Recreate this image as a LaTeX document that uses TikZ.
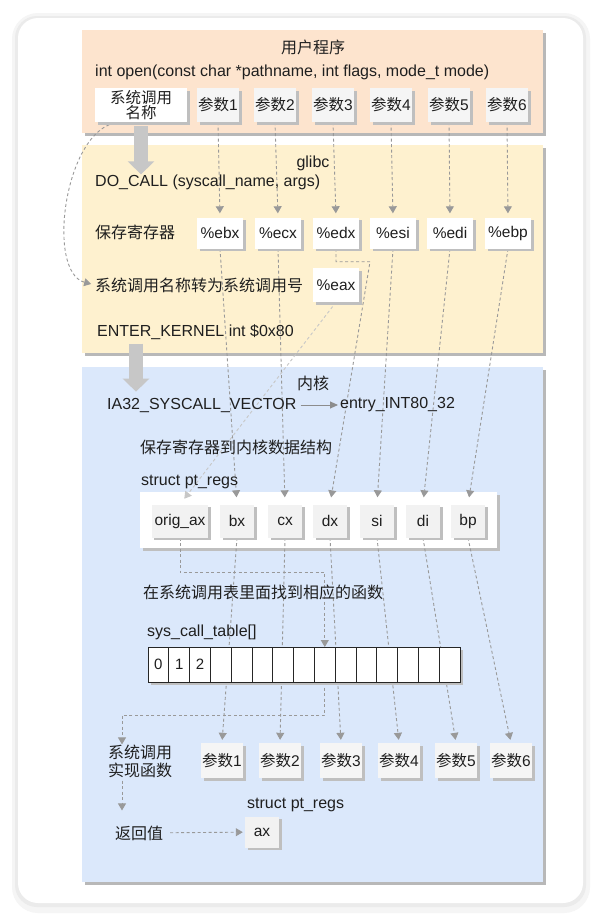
\documentclass[tikz,border=0pt]{standalone}
\usepackage{fontspec}
\setmainfont{Liberation Sans}
\newfontfamily\cjkfont{Noto Sans CJK SC}
\newcommand{\zh}[1]{{\cjkfont #1}}
\usepackage{xcolor}
\usepackage{tikz}
\usetikzlibrary{arrows.meta, positioning, shadows}
\definecolor{durazno}{HTML}{FDE4CE}
\definecolor{crema}{HTML}{FEF1CF}
\definecolor{celeste}{HTML}{DBE8FB}
\pgfdeclarelayer{fondo}
\pgfdeclarelayer{lineas}
\pgfsetlayers{fondo,lineas,main}

\begin{document}
\begin{tikzpicture}[
    x=1pt, y=-1pt,
    every node/.style={font=\fontsize{16}{17}\selectfont, text=black!88},
    texto/.style={anchor=west, inner sep=0pt},
    sombra/.style={drop shadow={shadow xshift=2.5pt, shadow yshift=-2.5pt, fill=black!25, opacity=1}},
    panel/.style={rectangle, inner sep=0pt, outer sep=0pt, drop shadow={shadow xshift=3pt, shadow yshift=-3pt, fill=black!28, opacity=1}},
    caja/.style={rectangle, sombra, fill=black!4, minimum width=42pt, minimum height=34pt, inner sep=1pt, font=\fontsize{15.5}{16}\selectfont},
    cajareg/.style={caja, fill=white, minimum width=46pt, minimum height=31pt},
    cajak/.style={caja, fill=black!5, minimum width=34pt, minimum height=33pt, inner xsep=3pt},
    celda/.style={rectangle, sombra, draw=black!85, line width=0.8pt, fill=white, minimum width=20.8pt, minimum height=35pt, inner sep=0pt, outer sep=0pt, font=\fontsize{15}{16}\selectfont},
    flecha/.style={draw=black!40, line width=0.9pt, dash pattern=on 3pt off 2.5pt, -{Triangle[length=7pt, width=8pt]}},
    flechagorda/.style={draw=black!22, line width=14pt, -{Triangle[length=13pt, width=26pt]}}
]
\useasboundingbox (0,0) rectangle (602,921);

% tarjeta y paneles
\begin{pgfonlayer}{fondo}
\fill[white] (0,0) rectangle (602,921);
\fill[black!4, rounded corners=26pt] (12,13) rectangle (590,913);
\fill[black!8, rounded corners=22pt] (15,16) rectangle (586,907);
\fill[white, rounded corners=20pt] (18,18) rectangle (583,903);
\node (usr) [panel, fill=durazno, minimum width=461pt, minimum height=103pt] at (312.5,81.5) {};
\node (lib) [panel, fill=crema, minimum width=461pt, minimum height=208pt] at (312.5,249) {};
\node (kern) [panel, fill=celeste, minimum width=461pt, minimum height=515pt] at (312.5,624.5) {};
\node (ptregs) [panel, sombra, fill=white, minimum width=357pt, minimum height=56pt] at (318.5,520) {};
\end{pgfonlayer}

% programa de usuario
\node (titusr) at (313,47) {\zh{用户程序}};
\node (firma) [texto] at (95,72) {int open(const char *pathname, int flags, mode\_t mode)};
\node (sysname) [cajareg, minimum width=92pt, minimum height=34pt, align=center, font=\fontsize{15.5}{15}\selectfont] at (141,105) {\zh{系统调用}\\\zh{名称}};
\node (arg1) [caja] at (218,105) {\zh{参数}1};
\node (arg2) [caja] at (275,105) {\zh{参数}2};
\node (arg3) [caja] at (333,105) {\zh{参数}3};
\node (arg4) [caja] at (391,105) {\zh{参数}4};
\node (arg5) [caja] at (449,105) {\zh{参数}5};
\node (arg6) [caja] at (507,105) {\zh{参数}6};

% glibc
\node (titlib) at (313,163) {glibc};
\node (docall) [texto] at (95,182) {DO\_CALL (syscall\_name, args)};
\node (guarda) [texto] at (95,232) {\zh{保存寄存器}};
\node (ebx) [cajareg] at (220,233) {\%ebx};
\node (ecx) [cajareg] at (278,233) {\%ecx};
\node (edx) [cajareg] at (336,233) {\%edx};
\node (esi) [cajareg] at (393,233) {\%esi};
\node (edi) [cajareg] at (450,233) {\%edi};
\node (ebp) [cajareg] at (508,233) {\%ebp};
\node (conv) [texto] at (95,285) {\zh{系统调用名称转为系统调用号}};
\node (eax) [cajareg, minimum height=34pt] at (336,285) {\%eax};
\node (enter) [texto] at (97,332) {ENTER\_KERNEL int \$0x80};

% kernel
\node (titkern) at (313,383) {\zh{内核}};
\node (vector) [texto] at (107,405) {IA32\_SYSCALL\_VECTOR};
\node (entry) [texto] at (340,405) {entry\_INT80\_32};
\node (guardak) [texto] at (140,447) {\zh{保存寄存器到内核数据结构}};
\node (tptregs) [texto] at (141,482) {struct pt\_regs};
\node (korig) [cajak, minimum width=56pt] at (180,521) {orig\_ax};
\node (kbx) [cajak] at (237,521) {bx};
\node (kcx) [cajak] at (285,521) {cx};
\node (kdx) [cajak] at (330,521) {dx};
\node (ksi) [cajak] at (377,521) {si};
\node (kdi) [cajak] at (423,521) {di};
\node (kbp) [cajak] at (468,521) {bp};

\node (busca) [texto] at (143,592) {\zh{在系统调用表里面找到相应的函数}};
\node (ttabla) [texto] at (147,632) {sys\_call\_table[]};
\node (celda0) [celda] at (158.4,664.5) {0};
\node (celda1) [celda, right=0pt of celda0] {1};
\node (celda2) [celda, right=0pt of celda1] {2};
\node (celda3) [celda, right=0pt of celda2] {};
\node (celda4) [celda, right=0pt of celda3] {};
\node (celda5) [celda, right=0pt of celda4] {};
\node (celda6) [celda, right=0pt of celda5] {};
\node (celda7) [celda, right=0pt of celda6] {};
\node (celda8) [celda, right=0pt of celda7] {};
\node (celda9) [celda, right=0pt of celda8] {};
\node (celda10) [celda, right=0pt of celda9] {};
\node (celda11) [celda, right=0pt of celda10] {};
\node (celda12) [celda, right=0pt of celda11] {};
\node (celda13) [celda, right=0pt of celda12] {};
\node (celda14) [celda, right=0pt of celda13] {};

\node (impl) [align=left, inner sep=0pt, font=\fontsize{16}{18}\selectfont] at (140,761) {\zh{系统调用}\\\zh{实现函数}};
\node (karg1) [caja, minimum height=35pt] at (222,760.5) {\zh{参数}1};
\node (karg2) [caja, minimum height=35pt] at (280,760.5) {\zh{参数}2};
\node (karg3) [caja, minimum height=35pt] at (341,760.5) {\zh{参数}3};
\node (karg4) [caja, minimum height=35pt] at (399,760.5) {\zh{参数}4};
\node (karg5) [caja, minimum height=35pt] at (456,760.5) {\zh{参数}5};
\node (karg6) [caja, minimum height=35pt] at (511,760.5) {\zh{参数}6};
\node (tptregs2) [texto] at (247,805) {struct pt\_regs};
\node (kax) [cajak, minimum height=31pt] at (262,832) {ax};
\node (retval) [inner sep=0pt] at (139,833) {\zh{返回值}};

% conexiones
\begin{pgfonlayer}{lineas}
\draw [flechagorda] ([yshift=-4pt]sysname.south) -- (sysname.south |- docall.north);
\draw [flechagorda] ([xshift=39pt, yshift=-4pt]enter.south west) -- ([xshift=29pt, yshift=6pt]vector.north west);
\draw [draw=black!45, line width=0.9pt, -{Triangle[length=8pt, width=7pt]}, shorten <=4pt, shorten >=2pt] (vector) -- (entry);

\draw [flecha, shorten >=4pt] ([xshift=25pt]sysname.south west) .. controls (65,125) and (45,272) .. (conv.west);

\draw [flecha, shorten >=4pt] (arg1.south) -- (ebx.north);
\draw [flecha, shorten >=4pt] (arg2.south) -- (ecx.north);
\draw [flecha, shorten >=4pt] (arg3.south) -- (edx.north);
\draw [flecha, shorten >=4pt] (arg4.south) -- (esi.north);
\draw [flecha, shorten >=4pt] (arg5.south) -- (edi.north);
\draw [flecha, shorten >=4pt] (arg6.south) -- (ebp.north);

\draw [flecha, shorten >=7pt] (ebx.south) -- (kbx.north);
\draw [flecha, shorten >=7pt] (ecx.south) -- (kcx.north);
\draw [flecha, shorten >=7pt] (edx.south) -- ++(0,13) -- ++(34,0) -- (kdx.north);
\draw [flecha, shorten >=7pt] (esi.south) -- (ksi.north);
\draw [flecha, shorten >=7pt] (edi.south) -- (kdi.north);
\draw [flecha, shorten >=7pt] (ebp.south) -- (kbp.north);
\draw [flecha, draw=black!22, shorten >=7pt] (eax.south) -- (korig.north);

\draw [flecha] (korig.south) -- ++(0,35) -| (celda8.north);
\draw [flecha] (celda8.south) -- ++(0,33) -| ([xshift=-18pt]impl.north);

\draw [flecha, shorten >=3pt] (kbx.south) -- (karg1.north);
\draw [flecha, shorten >=3pt] (kcx.south) -- (karg2.north);
\draw [flecha, shorten >=3pt] (kdx.south) -- (karg3.north);
\draw [flecha, shorten >=3pt] (ksi.south) -- (karg4.north);
\draw [flecha, shorten >=3pt] (kdi.south) -- (karg5.north);
\draw [flecha, shorten >=3pt] (kbp.south) -- (karg6.north);

\draw [flecha, shorten <=3pt, shorten >=15pt] ([xshift=-18pt]impl.south) -- ([xshift=-17pt]retval.north);
\draw [flecha, shorten <=7pt, shorten >=2pt] (retval) -- (kax);
\end{pgfonlayer}

\end{tikzpicture}
\end{document}
